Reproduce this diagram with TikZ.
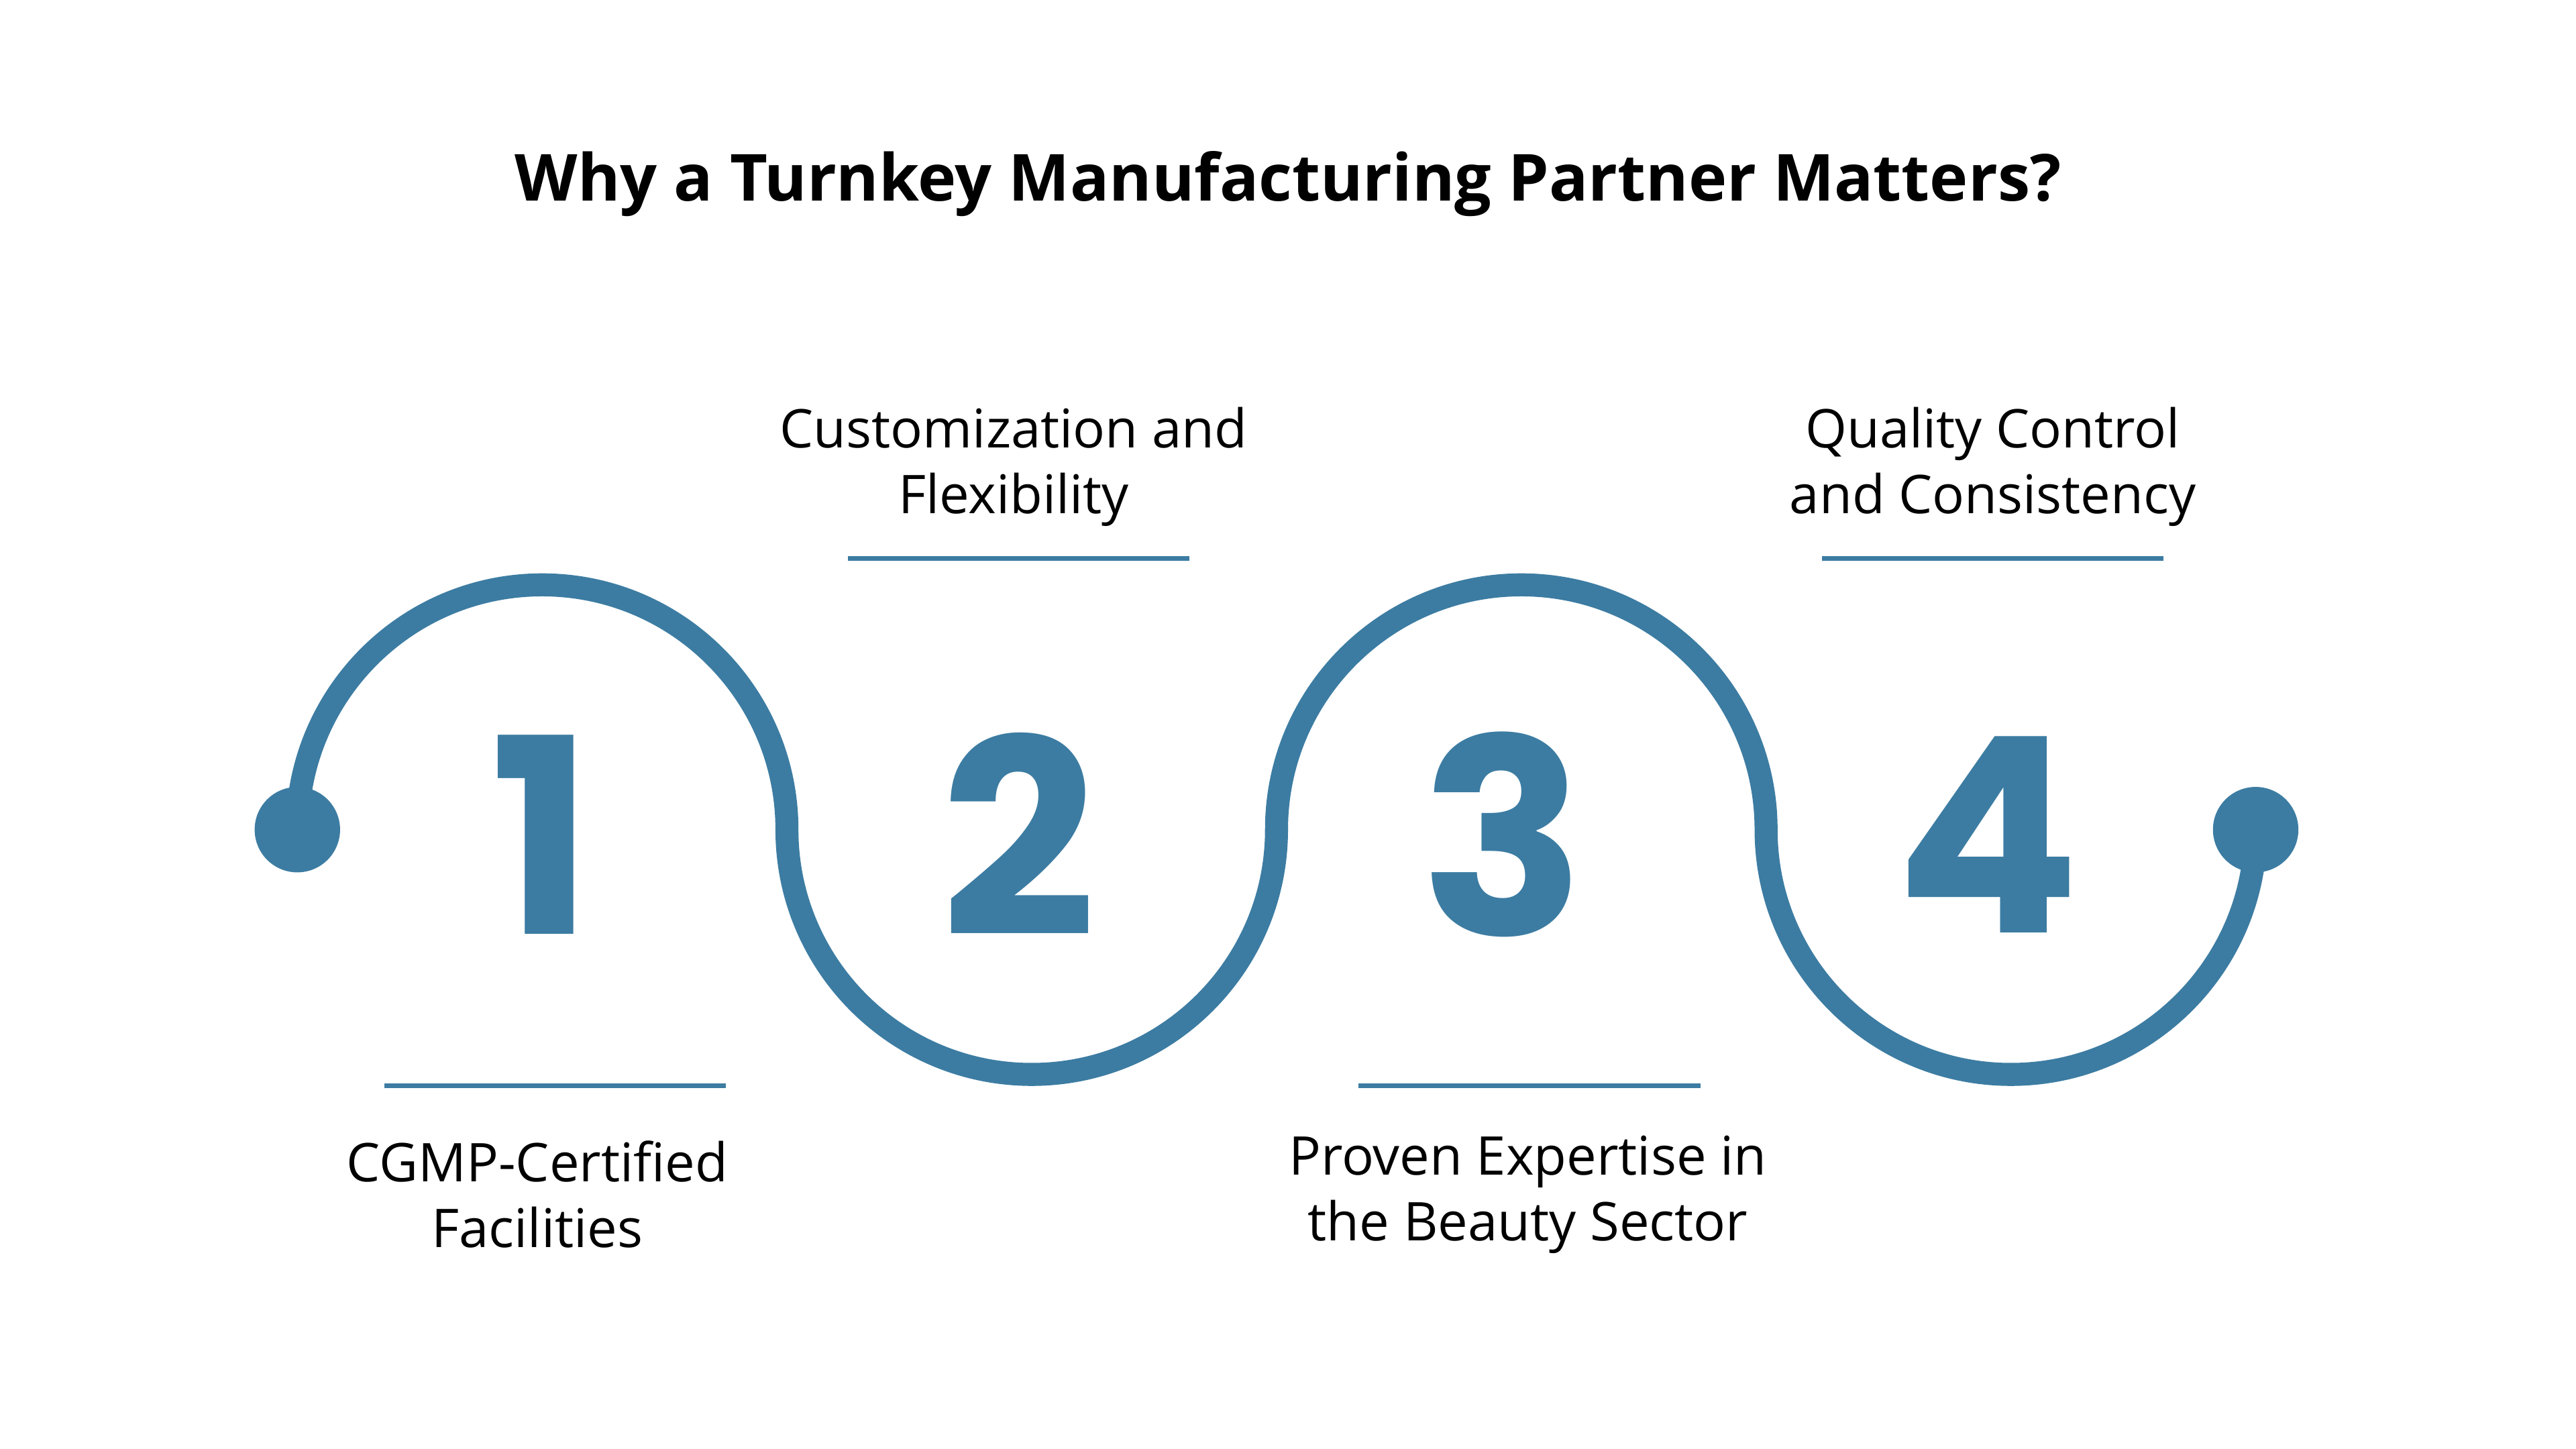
\documentclass[tikz,border=0pt]{standalone}
\usepackage{fontspec}
\setmainfont{Open Sans}
\newfontfamily\numfont{Poppins}
\definecolor{mblue}{HTML}{3C7CA2}
\begin{document}
\begin{tikzpicture}[x=1pt,y=-1pt,
  lbl/.style={align=center,font=\fontsize{32.5}{40}\selectfont,text=black},
  num/.style={font=\numfont\bfseries\fontsize{166}{166}\selectfont,text=mblue,anchor=center},
  uline/.style={draw=mblue,line width=3pt},
  curve/.style={draw=mblue,line width=14pt}]
\useasboundingbox[fill=white] (0,0) rectangle (1568,882);
\node[font=\bfseries\fontsize{39.5}{46}\selectfont] (title) at (784,112) {Why a Turnkey Manufacturing Partner Matters?};
\coordinate (p0) at (181,505);
\draw[curve] (p0) arc[start angle=180,end angle=0,x radius=149,y radius=-149]
  arc[start angle=180,end angle=360,x radius=149,y radius=-149]
  arc[start angle=180,end angle=0,x radius=149,y radius=-149]
  arc[start angle=180,end angle=360,x radius=149,y radius=-149] coordinate (p1);
\fill[mblue] (p0) circle (26);
\fill[mblue] (p1) circle (26);
\node[num] (n1) at (330,508) {1};
\node[num] (n2) at (620,508) {2};
\node[num] (n3) at (915,508) {3};
\node[num] (n4) at (1210,508) {4};
\draw[uline] (516,340) -- (724,340);
\draw[uline] (1109,340) -- (1317,340);
\draw[uline] (234,661) -- (442,661);
\draw[uline] (827,661) -- (1035,661);
\node[lbl] (t2) at (617,284) {Customization and\\Flexibility};
\node[lbl] (t4) at (1213,284) {Quality Control\\and Consistency};
\node[lbl] (t1) at (327,727) {CGMP-Certified\\Facilities};
\node[lbl] (t3) at (930,727) {Proven Expertise in\\the Beauty Sector};
\end{tikzpicture}
\end{document}
